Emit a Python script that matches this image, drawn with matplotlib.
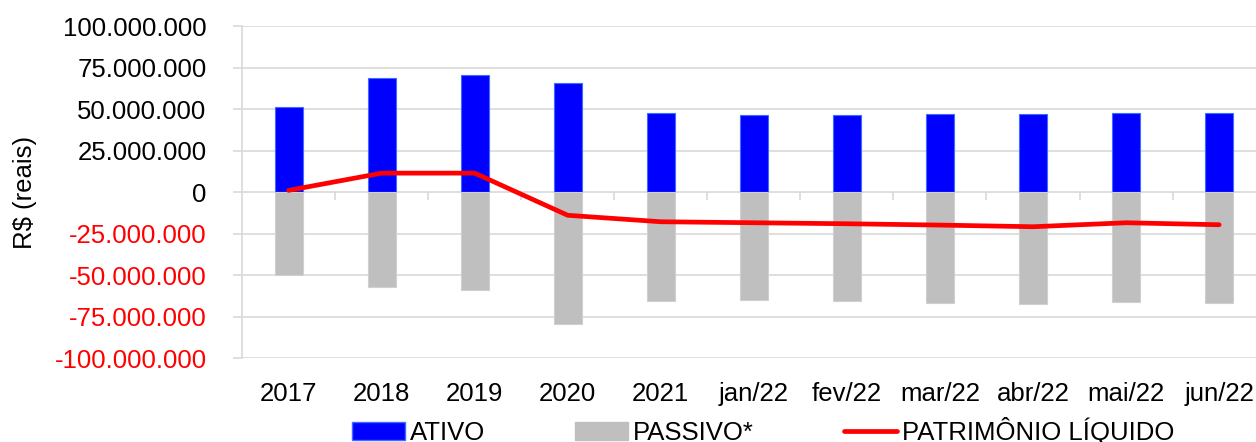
import matplotlib
matplotlib.use("Agg")
import matplotlib.pyplot as plt
from matplotlib.patches import Patch
from matplotlib.lines import Line2D

periods = ["2017", "2018", "2019", "2020", "2021", "jan/22", "fev/22",
           "mar/22", "abr/22", "mai/22", "jun/22"]
ativo = [51.0, 68.7, 70.7, 65.7, 47.7, 46.6, 46.6, 47.0, 46.8, 47.8, 47.4]
passivo = [-50.0, -57.2, -59.2, -79.7, -65.5, -65.3, -65.7, -66.9, -67.5,
           -66.3, -66.9]
patrimonio = [1.0, 11.4, 11.4, -14.0, -17.9, -18.5, -19.1, -19.9, -20.9,
              -18.5, -19.7]
y_ticks = [-100, -75, -50, -25, 0, 25, 50, 75, 100]


def fmt_reais(v: float) -> str:
    """Format millions with dots as thousand separators."""
    n = int(round(v * 1_000_000))
    s = f"{abs(n):,}".replace(",", ".")
    return ("-" if n < 0 else "") + s


def main():
    plt.rcParams['font.family'] = ['Liberation Sans', 'DejaVu Sans']
    fig = plt.figure(figsize=(12.56, 4.42), dpi=100)
    ax = fig.add_axes([0.1927, 0.190, 0.815, 0.751])

    x = list(range(len(periods)))
    ax.bar(x, ativo, width=0.30, color='#0000ff', edgecolor='#3d6cff',
           linewidth=0.8, zorder=2)
    ax.bar(x, passivo, width=0.30, color='#bfbfbf', edgecolor='#d0d0d0',
           linewidth=0.8, zorder=2)
    ax.plot(x, patrimonio, color='#ff0000', linewidth=3.4,
            solid_capstyle='round', solid_joinstyle='round', zorder=3)

    # small tick marks under the zero line between categories
    bounds = [i + 0.5 for i in range(len(periods) - 1)]
    ax.plot(bounds, [0] * len(bounds), ls='none', marker=3, ms=6,
            mew=1.2, color='#d9d9d9', zorder=1)

    ax.set_xlim(-0.5, len(periods) - 0.5)
    ax.set_ylim(-100, 100)
    ax.set_yticks(y_ticks)
    ax.set_yticklabels([fmt_reais(v) for v in y_ticks])
    for lbl, v in zip(ax.get_yticklabels(), y_ticks):
        lbl.set_color('#ff0000' if v < 0 else 'black')
    ax.set_xticks(x)
    ax.set_xticklabels(periods)

    ax.grid(axis='y', color='#d9d9d9', linewidth=1.2, zorder=0)
    ax.set_axisbelow(True)
    for side in ['top', 'right', 'bottom']:
        ax.spines[side].set_visible(False)
    ax.spines['left'].set_color('#d9d9d9')
    ax.spines['left'].set_linewidth(1.2)
    ax.tick_params(axis='y', length=6.5, width=1.2, color='#d9d9d9',
                   labelsize=18.5, pad=19)
    ax.tick_params(axis='x', length=0, labelsize=18.5, pad=17.5)
    ax.set_ylabel("R$ (reais)", fontsize=18.5)
    ax.yaxis.set_label_coords(-0.200, 0.5)

    handles = [
        Patch(facecolor='#0000ff', edgecolor='#3d6cff'),
        Patch(facecolor='#bfbfbf', edgecolor='#bfbfbf'),
        Line2D([], [], color='#ff0000', linewidth=3.4,
               solid_capstyle='round'),
    ]
    fig.legend(handles, ["ATIVO", "PASSIVO*", "PATRIMÔNIO LÍQUIDO"],
               loc='center left', bbox_to_anchor=(0.280, 0.026), ncol=3,
               frameon=False, fontsize=18.5, handlelength=2.06,
               handleheight=0.7, handletextpad=0.2, columnspacing=3.5,
               borderpad=0, borderaxespad=0)

    fig.savefig("out.png", dpi=100)


if __name__ == "__main__":
    main()
